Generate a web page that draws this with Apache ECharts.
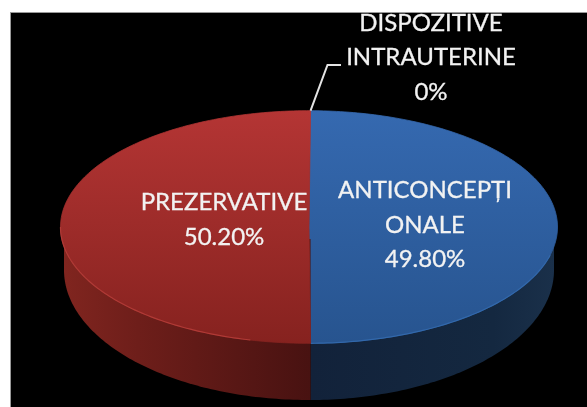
<!DOCTYPE html>
<html><head><meta charset="utf-8">
<style>html,body{margin:0;padding:0;background:#fff}#c{width:587px;height:407px}canvas{filter:blur(0.7px)}</style>
<script src="https://cdn.jsdelivr.net/npm/echarts@6/dist/echarts.min.js"></script>
</head><body><div id="c"></div>
<script>
var categories = ["ANTICONCEPȚI\nONALE", "PREZERVATIVE", "DISPOZITIVE\nINTRAUTERINE"];
var values = [49.8, 50.2, 0];
var valueLabels = ["49.80%", "50.20%", "0%"];

var chartStyle = {
  font: '24px Lato, "Open Sans", sans-serif', lineHeight: 34.5, textColor: '#f2f2f2',
  top: {cx: 309, cy: 227, rx: 248.5, ry: 116.3},
  low: {cx: 309, cy: 270, rx: 245, ry: 130},
  startAngle: 0.36
};
var sliceStyle = [
  {topStops: ['#3569B0', '#27548F'], sideStops: [[0, '#12223A'], [0.75, '#142840'], [1, '#1A304A']], rim: '#3268AB', labelAt: [425, 225]},
  {topStops: ['#B43534', '#86221F'], sideStops: [[0, '#80251F'], [0.3, '#6E1E1A'], [1, '#481211']], rim: '#B03A36', labelAt: [224, 220]},
  {labelAt: [431, 57.5], leader: [[327.5, 65], [341, 65]]}
];

function pt(e, deg) {
  var a = deg * Math.PI / 180;
  return [e.cx + e.rx * Math.sin(a), e.cy - e.ry * Math.cos(a)];
}
function arc(e, a0, a1) {
  var out = [], n = Math.max(2, Math.ceil(Math.abs(a1 - a0)));
  for (var i = 0; i <= n; i++) out.push(pt(e, a0 + (a1 - a0) * i / n));
  return out;
}
var total = values.reduce(function (s, v) { return s + v; }, 0);

function renderItem(params, api) {
  var i = params.dataIndex, S = chartStyle, st = sliceStyle[i];
  var before = 0;
  for (var k = 0; k < i; k++) before += values[k];
  var a0 = S.startAngle + before / total * 360;
  var a1 = a0 + api.value(0) / total * 360;
  var children = [];
  if (a1 > a0) {
    var s0 = Math.max(a0, 90), s1 = Math.min(a1, 270);
    if (s1 > s0) {
      var lowArc = arc(S.low, s0, s1);
      var sx0 = Math.min(lowArc[0][0], lowArc[lowArc.length - 1][0]);
      var sx1 = Math.max(lowArc[0][0], lowArc[lowArc.length - 1][0]);
      var pts = lowArc.concat([[lowArc[lowArc.length - 1][0], S.top.cy + 12], [lowArc[0][0], S.top.cy + 12]]);
      children.push({type: 'polygon', shape: {points: pts}, style: {
        fill: new echarts.graphic.LinearGradient(sx0, 0, sx1, 0,
          st.sideStops.map(function (d) { return {offset: d[0], color: d[1]}; }), true)}});
    }
    var topFill = new echarts.graphic.LinearGradient(0, S.top.cy - S.top.ry, 0, S.top.cy + S.top.ry,
        [{offset: 0, color: st.topStops[0]}, {offset: 1, color: st.topStops[1]}], true);
    children.push({type: 'polygon', shape: {points: arc(S.top, a0, a1).concat([[S.top.cx, S.top.cy]])}, style: {
      fill: topFill, stroke: topFill, lineWidth: 0.8}});
    if (s1 > s0) {
      children.push({type: 'polyline', shape: {points: arc(S.top, s0 + 14, s1 - 14 * (i === 0 ? 0 : 0))}, style: {fill: null, stroke: st.rim, lineWidth: 1.2}});
    }
  }
  if (st.leader) {
    children.push({type: 'polyline', shape: {points: [pt(S.top, a0)].concat(st.leader)}, style: {fill: null, stroke: '#e4e4e4', lineWidth: 2}});
  }
  children.push({type: 'text', z2: 10, style: {
    x: st.labelAt[0], y: st.labelAt[1], text: categories[i] + '\n' + valueLabels[i],
    fill: S.textColor, stroke: S.textColor, lineWidth: 0.3, font: S.font, lineHeight: S.lineHeight, align: 'center', verticalAlign: 'middle'}});
  return {type: 'group', children: children};
}

var chart = echarts.init(document.getElementById('c'), null, {renderer: 'canvas'});
chart.setOption({
  animation: false,
  backgroundColor: '#ffffff',
  graphic: {elements: [
    {type: 'rect', z: -10, silent: true, shape: {x: 10.5, y: 12.5, width: 590, height: 400}, style: {fill: '#000', stroke: '#999', lineWidth: 1}},
    {type: 'rect', z: 100, silent: true, shape: {x: 0, y: 0, width: 587, height: 12}, style: {fill: '#fff'}},
    {type: 'rect', z: 100, silent: true, shape: {x: 10, y: 12, width: 577, height: 1}, style: {fill: '#999'}}
  ]},
  series: [{
    type: 'custom', coordinateSystem: 'none', silent: true, z: 5,
    renderItem: renderItem,
    data: values.map(function (v, i) { return {name: categories[i], value: [v]}; })
  }]
});
</script></body></html>
